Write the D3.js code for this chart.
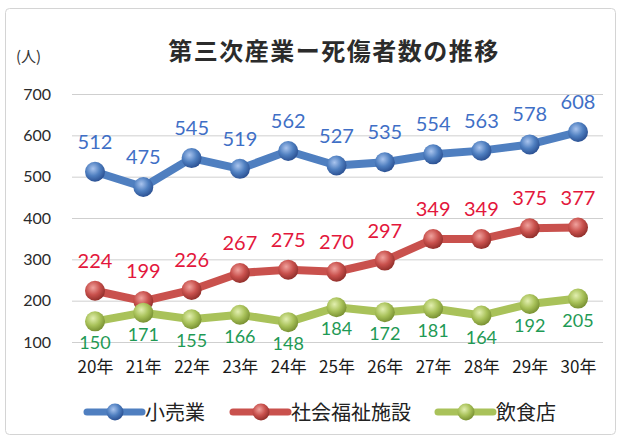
<!DOCTYPE html>
<html>
<head>
<meta charset="utf-8">
<script src="https://cdn.jsdelivr.net/npm/d3@7/dist/d3.min.js"></script>
<style>
  body { margin: 0; background: #fff; }
  svg { display: block; }
</style>
</head>
<body>
<svg></svg>
<script>
// Data
let years = ['20年', '21年', '22年', '23年', '24年', '25年', '26年', '27年', '28年', '29年', '30年'];
let retail = [512, 475, 545, 519, 562, 527, 535, 554, 563, 578, 608];
let welfare = [224, 199, 226, 267, 275, 270, 297, 349, 349, 375, 377];
let restaurant = [150, 171, 155, 166, 148, 184, 172, 181, 164, 192, 205];
let seriesNames = ['小売業', '社会福祉施設', '飲食店'];
let yTicks = [100, 200, 300, 400, 500, 600, 700];

let width = 622;
let height = 441;

let series = [
    { name: seriesNames[0], values: retail, line: '#4f7fc0', light: '#a9c4ee', dark: '#2c5294', label: '#3f6fc6', pos: 'above' },
    { name: seriesNames[1], values: welfare, line: '#c9514d', light: '#f0a29d', dark: '#93302c', label: '#e3173c', pos: 'above' },
    { name: seriesNames[2], values: restaurant, line: '#a9c25a', light: '#e2efb0', dark: '#7a9233', label: '#1f9a55', pos: 'below' }
];

let svg = d3.select('svg')
    .attr('width', width)
    .attr('height', height);

let numFont = 'Lato, "Noto Sans", sans-serif';
let jpFont = '"Noto Sans CJK JP", sans-serif';

// Scales
let xScale = d3.scalePoint()
    .domain(years)
    .range([95, 578]);

let yScale = d3.scaleLinear()
    .domain([100, 700])
    .range([342, 94]);

// Gradients for the ball markers
let defs = svg.append('defs');
series.forEach((s, i) => {
    let g = defs.append('radialGradient')
        .attr('id', 'ball' + i)
        .attr('cx', '40%').attr('cy', '35%').attr('r', '65%');
    g.append('stop').attr('offset', '0%').attr('stop-color', s.light);
    g.append('stop').attr('offset', '55%').attr('stop-color', s.line);
    g.append('stop').attr('offset', '100%').attr('stop-color', s.dark);
});

// Frame
svg.append('rect')
    .attr('x', 5.5).attr('y', 8.5)
    .attr('width', 610).attr('height', 426)
    .attr('rx', 4)
    .attr('fill', '#fff')
    .attr('stroke', '#d4d4d4');

// Title
svg.append('text')
    .attr('x', 334).attr('y', 60)
    .attr('text-anchor', 'middle')
    .attr('font-family', jpFont)
    .attr('font-weight', 'bold')
    .attr('font-size', 24)
    .attr('letter-spacing', 1.5)
    .attr('fill', '#2b2b2b')
    .text('第三次産業ー死傷者数の推移');

svg.append('text')
    .attr('x', 16).attr('y', 62)
    .attr('font-family', jpFont)
    .attr('font-size', 15)
    .attr('fill', '#333')
    .text('(人)');

// Y axis with gridlines
let yAxis = d3.axisLeft(yScale)
    .tickValues(yTicks)
    .tickSize(-(603 - 72))
    .tickPadding(21);

let yAxisG = svg.append('g')
    .attr('transform', 'translate(72, 0)')
    .call(yAxis);
yAxisG.select('.domain').remove();
yAxisG.selectAll('.tick line')
    .attr('stroke', '#cfcfcf');
yAxisG.selectAll('.tick text')
    .attr('font-family', numFont)
    .attr('font-size', 16)
    .attr('fill', '#2b2b2b');

// X axis labels
let xAxis = d3.axisBottom(xScale)
    .tickSize(0)
    .tickPadding(0);

let xAxisG = svg.append('g')
    .attr('transform', 'translate(0, 361)')
    .call(xAxis);
xAxisG.select('.domain').remove();
xAxisG.selectAll('.tick text')
    .attr('font-family', jpFont)
    .attr('font-size', 17)
    .attr('fill', '#1a1a1a');

// Lines, markers and labels
let line = d3.line()
    .x((d, i) => xScale(years[i]))
    .y((d) => yScale(d));

series.forEach((s, si) => {
    let g = svg.append('g');
    g.append('path')
        .datum(s.values)
        .attr('d', line)
        .attr('fill', 'none')
        .attr('stroke', s.line)
        .attr('stroke-width', 8)
        .attr('stroke-linejoin', 'round');

    g.selectAll('circle')
        .data(s.values)
        .enter()
        .append('circle')
        .attr('cx', (d, i) => xScale(years[i]))
        .attr('cy', (d) => yScale(d))
        .attr('r', 10)
        .attr('fill', 'url(#ball' + si + ')');

    g.selectAll('text')
        .data(s.values)
        .enter()
        .append('text')
        .attr('x', (d, i) => xScale(years[i]))
        .attr('y', (d) => yScale(d) + (s.pos === 'above' ? -23 : 28))
        .attr('text-anchor', 'middle')
        .attr('font-family', numFont)
        .attr('font-size', s.pos === 'above' ? 20 : 18)
        .attr('fill', s.label)
        .text((d) => d);
});

// Legend
let legendX = [87, 233, 438];
series.forEach((s, si) => {
    let lg = svg.append('g')
        .attr('transform', 'translate(' + legendX[si] + ', 412)');
    lg.append('line')
        .attr('x1', 0).attr('x2', 55)
        .attr('stroke', s.line)
        .attr('stroke-width', 7)
        .attr('stroke-linecap', 'round');
    lg.append('circle')
        .attr('cx', 28).attr('r', 8.5)
        .attr('fill', 'url(#ball' + si + ')');
    lg.append('text')
        .attr('x', 58).attr('y', 8)
        .attr('font-family', jpFont)
        .attr('font-size', 20)
        .attr('fill', '#222')
        .text(s.name);
});
</script>
</body>
</html>
